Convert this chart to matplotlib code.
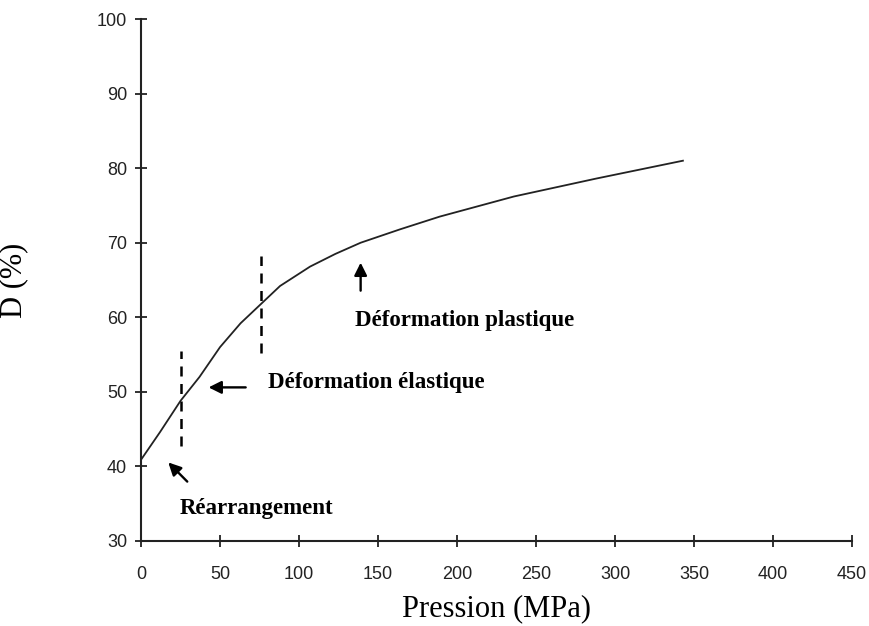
import matplotlib
matplotlib.use("Agg")
import matplotlib.pyplot as plt

# densification curve
pression = [0, 12, 25, 37, 50, 63, 76, 88, 107, 123, 139, 164, 189, 236, 288, 343]
densite = [40.9, 44.6, 48.8, 52.0, 56.0, 59.2, 61.8, 64.2, 66.8, 68.5, 70.0, 71.8, 73.5, 76.2, 78.6, 81.0]

# limits of the three stages
seuils_x = [25, 76]
seuils_bas = [42.7, 55.2]
seuils_haut = [55.5, 68.2]

x_ticks = list(range(0, 451, 50))
y_ticks = list(range(30, 101, 10))

fig = plt.figure(figsize=(8.69, 6.26), dpi=100)
ax = fig.add_axes([0.1623, 0.1358, 0.8181, 0.8338])

ax.plot(pression, densite, color="#222222", lw=1.3, solid_joinstyle="round")
for sx, lo, hi in zip(seuils_x, seuils_bas, seuils_haut):
    ax.plot([sx, sx], [lo, hi], color="black", lw=1.8, ls=(0, (4, 3)))

ax.set_xlim(0, 450)
ax.set_ylim(30, 100)
ax.set_xticks(x_ticks)
ax.set_yticks(y_ticks)
for s in ["top", "right"]:
    ax.spines[s].set_visible(False)
for s in ["left", "bottom"]:
    ax.spines[s].set_linewidth(1.5)
    ax.spines[s].set_color("#222222")
ax.tick_params(direction="inout", length=8, width=1.3, color="#222222",
               labelsize=13, labelcolor="#222222", pad=6)
ax.tick_params(axis="x", pad=14)
for lab in ax.get_xticklabels() + ax.get_yticklabels():
    lab.set_family("Liberation Sans")

ax.set_xlabel("Pression (MPa)", family="Liberation Serif", fontsize=22, labelpad=8)
ax.set_ylabel("D (%)", family="Liberation Serif", fontsize=22)
ax.yaxis.set_label_coords(-0.158, 0.5)

arrow = dict(arrowstyle="-|>", color="black", lw=1.7, mutation_scale=19)
txt = dict(family="Liberation Serif", fontweight="bold", fontsize=16.5, va="center")

ax.annotate("", xy=(16, 40.8), xytext=(30.5, 37.7), arrowprops=arrow)
ax.text(24.7, 34.4, "Réarrangement", **txt)

ax.annotate("", xy=(41, 50.6), xytext=(68, 50.6), arrowprops=arrow)
ax.text(80.4, 51.3, "Déformation élastique", **txt)

ax.annotate("", xy=(139, 67.7), xytext=(139, 63.2), arrowprops=arrow)
ax.text(135.4, 59.6, "Déformation plastique", **txt)

fig.savefig("out.png", dpi=100)
